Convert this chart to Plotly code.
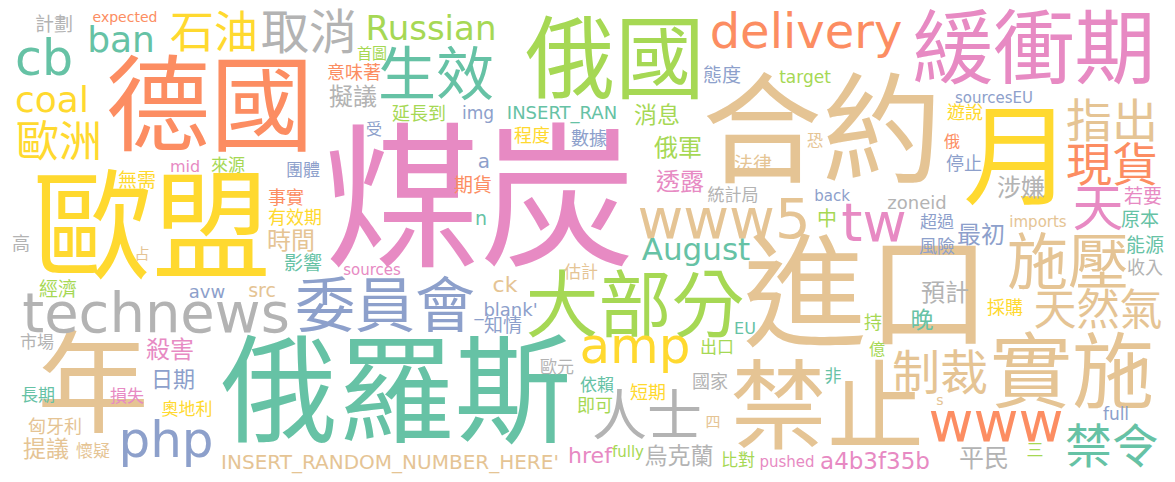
import plotly.graph_objects as go

# word cloud: word, weight (font px), placement
words = [
    "煤炭", "俄羅斯", "歐盟", "德國", "合約", "進口", "禁止", "年", "月", "俄國",
    "緩衝期", "實施", "technews", "委員會", "大部分", "施壓", "生效", "人士", "www", "www5",
    "delivery", "amp", "php", "tw", "cb", "取消", "石油", "指出", "現貨", "天",
    "制裁", "禁令", "天然氣", "歐洲", "ban", "coal", "Russian", "August", "計劃", "expected",
    "首圖", "意味著", "擬議", "延長到", "受", "mid", "來源", "團體", "無需", "事實",
    "有效期", "時間", "高", "占", "影響", "sources", "經濟", "avw", "src", "市場",
    "殺害", "日期", "長期", "損失", "奧地利", "匈牙利", "提議", "懷疑",
    "INSERT_RANDOM_NUMBER_HERE'", "img", "INSERT_RAN", "消息", "程度", "數據", "俄軍", "法律",
    "a", "期貨", "透露", "統計局", "n", "態度", "target", "sourcesEU", "遊說", "恐",
    "俄", "停止", "涉嫌", "若要", "back", "zoneid", "中", "imports", "原本", "超過",
    "最初", "風險", "能源", "收入", "預計", "採購", "晚", "持", "億", "非",
    "s", "full", "三", "平民", "a4b3f35b", "pushed", "估計", "ck", "_blank'", "知情",
    "EU", "出口", "歐元", "國家", "依賴", "短期", "即可", "四", "href", "fully",
    "烏克蘭", "比對",
]

weights = [
    156, 117, 119, 104, 120, 124, 97, 112, 110, 90,
    81, 82, 56, 60, 73, 61, 58, 55, 55, 56,
    48, 50, 50, 54, 49, 48, 44, 46, 46, 51,
    48, 47, 43, 43, 36, 36, 34, 31, 19, 14,
    15, 18, 24, 18, 16, 16, 17, 17, 19, 18,
    18, 24, 18, 15, 19, 15, 19, 18, 19, 17,
    24, 22, 17, 17, 17, 18, 23, 17,
    20, 17, 18, 23, 18, 18, 24, 19,
    20, 19, 24, 17, 19, 19, 17, 15, 18, 16,
    16, 18, 24, 19, 15, 18, 20, 15, 19, 17,
    24, 18, 19, 18, 24, 18, 23, 18, 16, 17,
    14, 17, 17, 25, 23, 15, 17, 22, 18, 19,
    16, 17, 17, 18, 17, 18, 18, 15, 22, 15,
    23, 17,
]

cx = [
    480, 396, 152, 210, 822, 867, 827, 93, 1018, 615,
    1034, 1072, 156, 385, 635, 1068, 436, 647, 996, 724,
    806, 635, 166, 874, 44, 309, 214, 1112, 1112, 1098,
    940, 1112, 1098, 59, 121, 52, 431, 696, 54, 125,
    372, 354, 353, 419, 374, 185, 228, 303, 137, 286,
    295, 291, 21, 142, 303, 372, 58, 207, 262, 37,
    170, 173, 38, 127, 187, 55, 46, 93,
    390, 478, 562, 657, 532, 589, 678, 753,
    484, 473, 680, 733, 481, 722, 805, 994, 965, 815,
    952, 964, 1021, 1143, 832, 917, 827, 1038, 1140, 937,
    981, 937, 1145, 1145, 945, 1005, 922, 873, 877, 833,
    940, 1116, 1035, 984, 875, 787, 581, 505, 506, 503,
    745, 717, 557, 710, 597, 648, 595, 713, 590, 628,
    679, 738,
]

cy = [
    215, 404, 240, 117, 144, 306, 417, 396, 168, 68,
    57, 380, 318, 312, 313, 269, 80, 421, 427, 224,
    36, 350, 444, 227, 63, 37, 37, 125, 169, 213,
    378, 451, 314, 146, 43, 103, 31, 252, 26, 18,
    55, 74, 99, 115, 131, 168, 167, 172, 182, 199,
    219, 243, 245, 255, 265, 271, 291, 293, 292, 344,
    352, 381, 397, 398, 411, 428, 451, 453,
    464, 115, 114, 117, 137, 140, 150, 166,
    163, 187, 184, 197, 220, 77, 79, 99, 114, 142,
    143, 165, 190, 198, 197, 204, 221, 223, 221, 224,
    237, 248, 247, 269, 295, 309, 322, 324, 351, 378,
    401, 416, 452, 461, 463, 463, 274, 286, 311, 327,
    330, 349, 369, 383, 387, 394, 407, 423, 457, 453,
    458, 462,
]

# Set2 palette
teal, orange, blue, pink = "#66c2a5", "#fc8d62", "#8da0cb", "#e78ac3"
green, yellow, tan, gray = "#a6d854", "#ffd92f", "#e5c494", "#b3b3b3"

colors = [
    pink, teal, yellow, orange, tan, tan, tan, tan, yellow, green,
    pink, tan, gray, blue, green, tan, teal, gray, orange, tan,
    orange, yellow, blue, pink, teal, gray, yellow, tan, orange, pink,
    tan, teal, tan, yellow, teal, yellow, green, teal, gray, orange,
    green, orange, gray, green, blue, pink, green, blue, yellow, orange,
    yellow, tan, gray, tan, teal, pink, green, blue, tan, gray,
    pink, blue, teal, pink, yellow, tan, tan, tan,
    tan, blue, teal, green, yellow, blue, green, tan,
    blue, orange, pink, gray, teal, blue, green, blue, yellow, tan,
    orange, blue, gray, pink, blue, gray, green, tan, teal, blue,
    blue, blue, teal, gray, gray, yellow, teal, green, green, teal,
    tan, blue, green, gray, pink, pink, tan, tan, blue, blue,
    teal, green, gray, gray, teal, yellow, green, tan, pink, green,
    gray, green,
]

W, H = 1175, 482

fig = go.Figure()
fig.add_trace(
    go.Scatter(
        x=cx,
        y=cy,
        mode="text",
        text=words,
        textposition="middle center",
        textfont=dict(
            family="DejaVu Sans, Noto Sans CJK TC, sans-serif",
            size=weights,
            color=colors,
        ),
        hoverinfo="skip",
    )
)
fig.update_layout(
    width=W,
    height=H,
    margin=dict(l=0, r=0, t=0, b=0),
    paper_bgcolor="white",
    plot_bgcolor="white",
    showlegend=False,
    xaxis=dict(range=[0, W], visible=False, fixedrange=True),
    yaxis=dict(range=[H, 0], visible=False, fixedrange=True),
)
# drop the default page margin so the figure sits at the window's corner
fig.write_html(
    "out.html",
    config={"displayModeBar": False},
    post_script="document.body.style.margin='0';document.body.style.overflow='hidden';",
)
